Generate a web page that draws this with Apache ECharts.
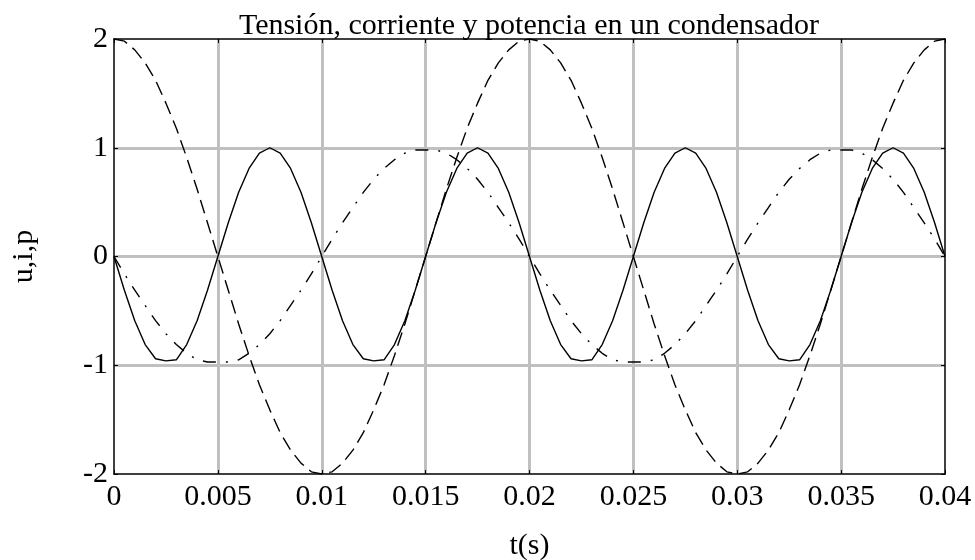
<!DOCTYPE html>
<html><head><meta charset="utf-8">
<script src="https://cdn.jsdelivr.net/npm/echarts@6/dist/echarts.min.js"></script>
<style>html,body{margin:0;padding:0;background:#fff}#c{width:975px;height:560px}</style>
</head><body><div id="c"></div>
<script>
const chartTitle = 'Tensión, corriente y potencia en un condensador';
const xName = 't(s)';
const yName = 'u,i,p';
const xTickLabels = ['0','0.005','0.01','0.015','0.02','0.025','0.03','0.035','0.04'];
const yTickLabels = ['-2','-1','0','1','2'];

const t = [0, 0.0005, 0.001, 0.0015, 0.002, 0.0025, 0.003, 0.0035, 0.004, 0.0045,
  0.005, 0.0055, 0.006, 0.0065, 0.007, 0.0075, 0.008, 0.0085, 0.009, 0.0095,
  0.01, 0.0105, 0.011, 0.0115, 0.012, 0.0125, 0.013, 0.0135, 0.014, 0.0145,
  0.015, 0.0155, 0.016, 0.0165, 0.017, 0.0175, 0.018, 0.0185, 0.019, 0.0195,
  0.02, 0.0205, 0.021, 0.0215, 0.022, 0.0225, 0.023, 0.0235, 0.024, 0.0245,
  0.025, 0.0255, 0.026, 0.0265, 0.027, 0.0275, 0.028, 0.0285, 0.029, 0.0295,
  0.03, 0.0305, 0.031, 0.0315, 0.032, 0.0325, 0.033, 0.0335, 0.034, 0.0345,
  0.035, 0.0355, 0.036, 0.0365, 0.037, 0.0375, 0.038, 0.0385, 0.039, 0.0395, 0.04];

// tension u (dashed)
const tension = [2, 1.98, 1.9, 1.78, 1.62, 1.41, 1.18, 0.91, 0.62, 0.31,
  0, -0.31, -0.62, -0.91, -1.18, -1.41, -1.62, -1.78, -1.9, -1.98,
  -2, -1.98, -1.9, -1.78, -1.62, -1.41, -1.18, -0.91, -0.62, -0.31,
  0, 0.31, 0.62, 0.91, 1.18, 1.41, 1.62, 1.78, 1.9, 1.98,
  2, 1.98, 1.9, 1.78, 1.62, 1.41, 1.18, 0.91, 0.62, 0.31,
  0, -0.31, -0.62, -0.91, -1.18, -1.41, -1.62, -1.78, -1.9, -1.98,
  -2, -1.98, -1.9, -1.78, -1.62, -1.41, -1.18, -0.91, -0.62, -0.31,
  0, 0.31, 0.62, 0.91, 1.18, 1.41, 1.62, 1.78, 1.9, 1.98, 2];

// corriente i (dash-dot)
const corriente = [0, -0.16, -0.31, -0.45, -0.59, -0.71, -0.81, -0.89, -0.95, -0.97,
  -0.97, -0.97, -0.95, -0.89, -0.81, -0.71, -0.59, -0.45, -0.31, -0.16,
  0, 0.16, 0.31, 0.45, 0.59, 0.71, 0.81, 0.89, 0.95, 0.98,
  0.98, 0.98, 0.95, 0.89, 0.81, 0.71, 0.59, 0.45, 0.31, 0.16,
  0, -0.16, -0.31, -0.45, -0.59, -0.71, -0.81, -0.89, -0.95, -0.97,
  -0.97, -0.97, -0.95, -0.89, -0.81, -0.71, -0.59, -0.45, -0.31, -0.16,
  0, 0.16, 0.31, 0.45, 0.59, 0.71, 0.81, 0.89, 0.95, 0.98,
  0.98, 0.98, 0.95, 0.89, 0.81, 0.71, 0.59, 0.45, 0.31, 0.16, 0];

// potencia p (solid)
const potencia = [0, -0.31, -0.59, -0.81, -0.94, -0.96, -0.95, -0.81, -0.59, -0.31,
  0, 0.31, 0.59, 0.81, 0.95, 1.0, 0.95, 0.81, 0.59, 0.31,
  0, -0.31, -0.59, -0.81, -0.94, -0.96, -0.95, -0.81, -0.59, -0.31,
  0, 0.31, 0.59, 0.81, 0.95, 1.0, 0.95, 0.81, 0.59, 0.31,
  0, -0.31, -0.59, -0.81, -0.94, -0.96, -0.95, -0.81, -0.59, -0.31,
  0, 0.31, 0.59, 0.81, 0.95, 1.0, 0.95, 0.81, 0.59, 0.31,
  0, -0.31, -0.59, -0.81, -0.94, -0.96, -0.95, -0.81, -0.59, -0.31,
  0, 0.31, 0.59, 0.81, 0.95, 1.0, 0.95, 0.81, 0.59, 0.31, 0];

const FONT = "'Liberation Serif','Times New Roman',serif";
const chart = echarts.init(document.getElementById('c'), null, {renderer: 'canvas'});
const pairs = v => t.map((x, k) => [x, v[k]]);
const axText = {color: '#000', fontFamily: FONT, fontSize: 30};
const gridLine = {show: true, showMinLine: false, showMaxLine: false, lineStyle: {color: '#c0c0c0', width: 3}};
const frameLine = {show: true, onZero: false, lineStyle: {color: '#000', width: 1.5}};
const tick = {show: true, inside: true, length: 4, lineStyle: {color: '#000', width: 1}};

chart.setOption({
  animation: false,
  backgroundColor: '#fff',
  title: {
    text: chartTitle, left: 524, top: 6, textAlign: 'center',
    textStyle: {color: '#000', fontFamily: FONT, fontSize: 30, fontWeight: 'normal'}
  },
  grid: {left: 114, right: 30, top: 39, bottom: 86, containLabel: false, outerBoundsMode: 'none'},
  xAxis: [
    {
      type: 'value', min: 0, max: 0.04, interval: 0.005, position: 'bottom',
      name: xName, nameLocation: 'middle', nameGap: 57, nameTextStyle: axText,
      axisLine: frameLine, axisTick: tick,
      axisLabel: Object.assign({}, axText, {margin: 8, formatter: v => xTickLabels[Math.round(v / 0.005)]}),
      splitLine: gridLine
    },
    {
      type: 'value', min: 0, max: 0.04, interval: 0.005, position: 'top',
      axisLine: frameLine, axisTick: tick, axisLabel: {show: false}, splitLine: {show: false}
    }
  ],
  yAxis: [
    {
      type: 'value', min: -2, max: 2, interval: 1, position: 'left',
      name: yName, nameLocation: 'middle', nameGap: 75, nameRotate: 90, nameTextStyle: axText,
      axisLine: frameLine, axisTick: tick,
      axisLabel: Object.assign({}, axText, {margin: 6, formatter: v => yTickLabels[Math.round(v) + 2]}),
      splitLine: gridLine
    },
    {
      type: 'value', min: -2, max: 2, interval: 1, position: 'right',
      axisLine: frameLine, axisTick: tick, axisLabel: {show: false}, splitLine: {show: false}
    }
  ],
  series: [
    {
      name: 'u', type: 'line', data: pairs(tension), symbol: 'none', smooth: false,
      lineStyle: {color: '#000', width: 1.4, type: [14, 7]}
    },
    {
      name: 'i', type: 'line', data: pairs(corriente), symbol: 'none', smooth: false,
      lineStyle: {color: '#000', width: 1.4, type: [13, 10, 2, 10]}
    },
    {
      name: 'p', type: 'line', data: pairs(potencia), symbol: 'none', smooth: false,
      lineStyle: {color: '#000', width: 1.4}
    }
  ]
});
</script>
</body></html>
